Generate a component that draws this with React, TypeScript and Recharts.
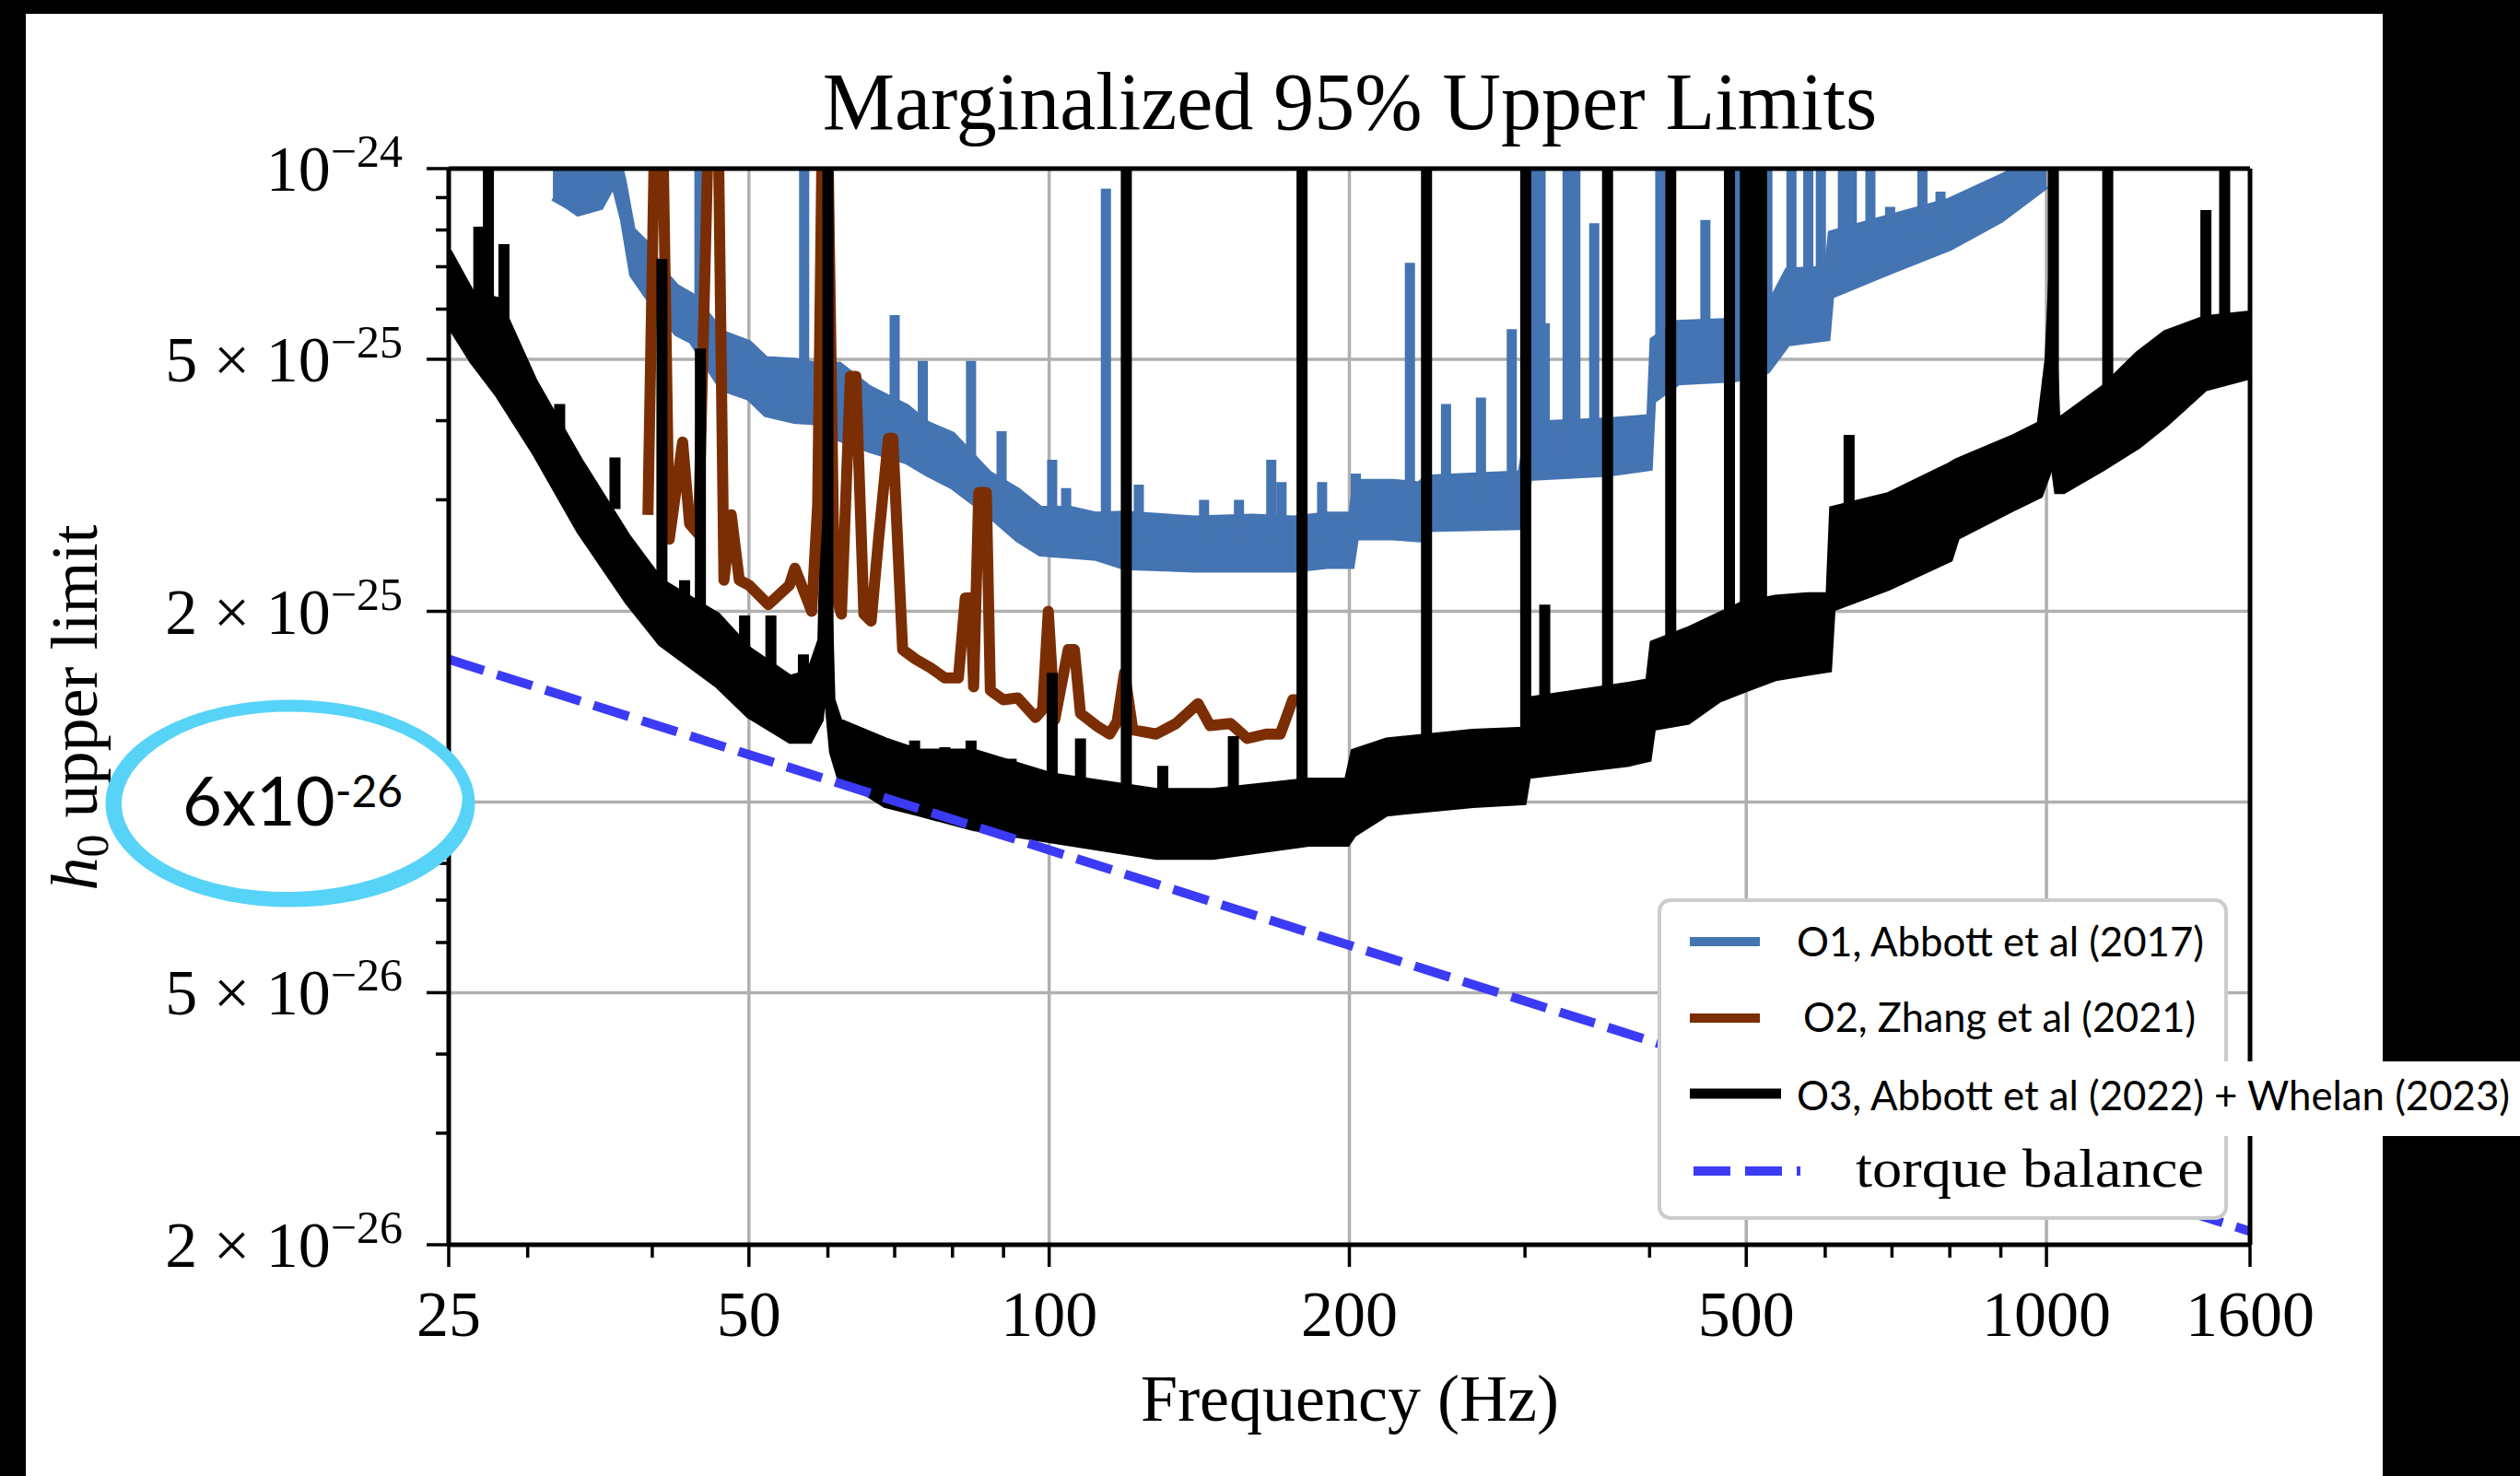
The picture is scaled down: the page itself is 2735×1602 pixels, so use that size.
import React from "react";
import { ComposedChart, Line, Area, XAxis, YAxis, CartesianGrid, ReferenceLine } from "recharts";

const SERIF = "'Liberation Serif', 'DejaVu Serif', serif";
const SANS = "Lato, 'Open Sans', sans-serif";

const O1_COLOR = "#4474b1";
const O2_COLOR = "#7b2e04";
const O3_COLOR = "#000000";
const TORQUE_COLOR = "#3b3bf6";
const RING_COLOR = "#58d3f8";

// axis ticks
const xMajorTicks = [25, 50, 100, 200, 500, 1000, 1600];
const xMinorTicks = [30, 40, 60, 70, 80, 90, 300, 400, 600, 700, 800, 900];
const xGridValues = [50, 100, 200, 500, 1000];

// the 1e-25 label is hidden under the pasted annotation, so it has no text
const yMajorTicks = [2e-26, 5e-26, 1e-25, 2e-25, 5e-25, 1e-24];
const yMajorMantissa = ["2", "5", "", "2", "5", ""];
const yMajorExponent = ["−26", "−26", "", "−25", "−25", "−24"];
const yMinorTicks = [3e-26, 4e-26, 6e-26, 7e-26, 8e-26, 9e-26, 3e-25, 4e-25, 6e-25, 7e-25, 8e-25, 9e-25];
const yGridValues = [5e-26, 1e-25, 2e-25, 5e-25];

// O1 band: [freq Hz, lower, upper]
const o1Band: [number, number, number][] = [
  [31.8, 9.0e-25, 1.1e-24], [33.0, 8.7e-25, 1.1e-24], [33.7, 8.5e-25, 1.05e-24], [35.5, 8.7e-25, 1.05e-24],
  [36.6, 9.5e-25, 1.1e-24], [37.4, 8.3e-25, 9.6e-25], [38.2, 6.8e-25, 8.0e-25], [39.5, 6.3e-25, 7.6e-25],
  [40.9, 5.9e-25, 6.9e-25], [42.3, 5.5e-25, 6.5e-25], [43.8, 5.35e-25, 6.3e-25], [47.0, 4.5e-25, 5.5e-25],
  [50.0, 4.35e-25, 5.3e-25], [52.0, 4.1e-25, 5.0e-25], [55.5, 4.0e-25, 4.97e-25], [58.2, 3.98e-25, 4.9e-25],
  [61.6, 3.75e-25, 4.9e-25], [66.0, 3.6e-25, 4.5e-25], [72.0, 3.45e-25, 4.2e-25], [75.5, 3.3e-25, 3.95e-25],
  [80.0, 3.15e-25, 3.8e-25], [87.0, 2.85e-25, 3.3e-25], [93.0, 2.6e-25, 3.1e-25], [98.0, 2.47e-25, 2.9e-25],
  [105, 2.45e-25, 2.9e-25], [111.5, 2.43e-25, 2.84e-25], [119, 2.35e-25, 2.85e-25], [140, 2.33e-25, 2.8e-25],
  [160, 2.33e-25, 2.82e-25], [176, 2.33e-25, 2.8e-25], [190, 2.36e-25, 2.84e-25], [201, 2.36e-25, 2.84e-25],
  [203, 2.62e-25, 3.2e-25], [221, 2.62e-25, 3.2e-25], [235, 2.6e-25, 3.17e-25], [239, 2.7e-25, 3.25e-25],
  [297, 2.72e-25, 3.3e-25], [303, 3.25e-25, 3.95e-25], [363, 3.3e-25, 4.0e-25], [400, 3.37e-25, 4.05e-25],
  [403, 4.3e-25, 5.36e-25], [427, 4.6e-25, 5.7e-25], [487, 4.65e-25, 5.75e-25], [525, 4.8e-25, 6.0e-25],
  [550, 5.3e-25, 6.9e-25], [603, 5.4e-25, 6.95e-25], [608, 6.3e-25, 7.9e-25], [700, 6.9e-25, 8.4e-25],
  [800, 7.5e-25, 8.9e-25], [900, 8.3e-25, 9.7e-25], [1000, 9.4e-25, 1.05e-24],
];

// narrow lines: [freq Hz, base, peak]
const o1Spikes: [number, number, number][] = [
  [44.6, 5.5e-25, 1.1e-24], [56.8, 4.5e-25, 1.1e-24], [70, 4e-25, 5.87e-25], [74.7, 3.6e-25, 4.97e-25],
  [83.5, 3.3e-25, 4.97e-25], [89.6, 3e-25, 3.85e-25], [100.7, 2.7e-25, 3.47e-25], [104, 2.7e-25, 3.13e-25],
  [114, 2.6e-25, 9.3e-25], [123, 2.6e-25, 3.17e-25], [143, 2.6e-25, 3.0e-25], [155, 2.6e-25, 3.0e-25],
  [167, 2.6e-25, 3.47e-25], [171, 2.6e-25, 3.2e-25], [187.8, 2.6e-25, 3.2e-25], [203, 2.9e-25, 3.3e-25],
  [218, 2.9e-25, 3.2e-25], [230, 2.9e-25, 7.1e-25], [250, 3.0e-25, 4.25e-25], [271, 3.0e-25, 4.35e-25],
  [291, 3.0e-25, 5.58e-25], [305, 3.6e-25, 1.1e-24], [311, 3.6e-25, 1.1e-24], [314, 3.6e-25, 5.7e-25],
  [331, 3.6e-25, 1.1e-24], [337, 3.6e-25, 1.1e-24], [352, 3.6e-25, 8.2e-25], [410, 4.8e-25, 1.1e-24],
  [455, 5e-25, 8.3e-25], [490, 5.2e-25, 1.1e-24], [496, 5.2e-25, 1.1e-24], [525, 5.5e-25, 1.1e-24],
  [555, 6e-25, 1.1e-24], [577, 6e-25, 1.1e-24], [594, 6e-25, 1.1e-24], [625, 7e-25, 1.1e-24],
  [638, 7e-25, 1.1e-24], [666, 7e-25, 1.1e-24], [697, 7.5e-25, 8.7e-25], [751, 7.8e-25, 1.1e-24],
  [783, 8e-25, 9.2e-25],
];

// O2: [freq Hz, h0]
const o2Curve: [number, number][] = [
  [39.6, 2.84e-25], [40.2, 1.1e-24], [41.0, 1.1e-24], [41.6, 2.6e-25], [42.9, 3.7e-25], [43.6, 2.75e-25],
  [44.5, 2.65e-25], [45.5, 1.1e-24], [46.6, 1.1e-24], [47.2, 2.24e-25], [48.0, 2.84e-25], [48.9, 2.24e-25],
  [50.0, 2.2e-25], [52.3, 2.05e-25], [54.9, 2.2e-25], [55.6, 2.34e-25], [57.8, 2.0e-25], [58.6, 2.95e-25],
  [59.2, 1.1e-24], [60.0, 1.1e-24], [60.9, 2.16e-25], [61.9, 1.98e-25], [63.2, 4.7e-25], [64.0, 4.7e-25],
  [65.2, 1.98e-25], [66.3, 1.93e-25], [67.4, 2.57e-25], [69.0, 3.75e-25], [69.7, 3.75e-25], [71.3, 1.74e-25],
  [73.5, 1.68e-25], [76, 1.63e-25], [78.6, 1.57e-25], [81.1, 1.57e-25], [82.4, 2.1e-25], [83.4, 2.1e-25],
  [84.0, 1.52e-25], [85.0, 3.08e-25], [86.5, 3.08e-25], [87.3, 1.5e-25], [90, 1.45e-25], [93, 1.46e-25],
  [96.9, 1.36e-25], [98.5, 1.4e-25], [99.8, 2.0e-25], [101.3, 1.35e-25], [104.5, 1.74e-25], [106, 1.74e-25],
  [107.5, 1.38e-25], [111.5, 1.32e-25], [115, 1.28e-25], [117, 1.34e-25], [119, 1.6e-25], [121.3, 1.3e-25],
  [128, 1.28e-25], [134, 1.33e-25], [141, 1.43e-25], [145, 1.32e-25], [152, 1.33e-25], [158, 1.26e-25],
  [165, 1.28e-25], [170.5, 1.28e-25], [175.5, 1.45e-25], [177.8, 1.45e-25],
];

// O3 band: [freq Hz, lower, upper]
const o3Band: [number, number, number][] = [
  [25, 5.7e-25, 7.4e-25], [26.4, 4.97e-25, 6.33e-25], [28, 4.4e-25, 6.2e-25], [30.5, 3.56e-25, 4.6e-25],
  [33.8, 2.68e-25, 3.47e-25], [37.8, 2.07e-25, 2.62e-25], [40.8, 1.78e-25, 2.23e-25], [46.5, 1.53e-25, 1.97e-25],
  [50, 1.37e-25, 1.74e-25], [55, 1.25e-25, 1.57e-25], [57.5, 1.25e-25, 1.6e-25], [59.0, 1.35e-25, 1.8e-25],
  [59.6, 1.6e-25, 3.75e-25], [60.6, 1.2e-25, 1.45e-25], [61.6, 1.1e-25, 1.34e-25], [68.5, 0.99e-25, 1.25e-25],
  [74, 0.96e-25, 1.2e-25], [84, 0.91e-25, 1.2e-25], [100.7, 0.87e-25, 1.1e-25], [128, 0.82e-25, 1.04e-25],
  [146, 0.82e-25, 1.04e-25], [182, 0.86e-25, 1.08e-25], [199, 0.86e-25, 1.08e-25], [202, 0.89e-25, 1.2e-25],
  [218, 0.96e-25, 1.25e-25], [266, 0.99e-25, 1.29e-25], [299, 1.0e-25, 1.3e-25], [302, 1.1e-25, 1.45e-25],
  [381, 1.15e-25, 1.53e-25], [399, 1.17e-25, 1.55e-25], [403, 1.31e-25, 1.78e-25], [437, 1.34e-25, 1.87e-25],
  [469, 1.45e-25, 1.97e-25], [495, 1.5e-25, 2.05e-25], [535, 1.57e-25, 2.1e-25], [576, 1.6e-25, 2.12e-25],
  [605, 1.62e-25, 2.12e-25], [610, 2.02e-25, 2.9e-25], [694, 2.18e-25, 3.05e-25], [800, 2.42e-25, 3.4e-25],
  [813, 2.62e-25, 3.45e-25], [922, 2.9e-25, 3.75e-25], [985, 3.05e-25, 3.95e-25], [1003, 3.3e-25, 5.0e-25],
  [1012, 3.6e-25, 6.8e-25], [1025, 3.1e-25, 4.0e-25], [1040, 3.1e-25, 4.05e-25], [1140, 3.37e-25, 4.5e-25],
  [1236, 3.65e-25, 5.1e-25], [1316, 3.95e-25, 5.5e-25], [1442, 4.5e-25, 5.8e-25], [1600, 4.7e-25, 5.9e-25],
];

const o3Spikes: [number, number, number][] = [
  [26.8, 6e-25, 8.1e-25], [27.4, 6e-25, 1.1e-24], [28.4, 5.5e-25, 7.6e-25], [32.3, 3.8e-25, 4.25e-25],
  [34.8, 2.9e-25, 3.2e-25], [35.8, 2.7e-25, 2.96e-25], [36.7, 2.9e-25, 3.5e-25], [40.9, 2.0e-25, 7.2e-25],
  [43.1, 1.9e-25, 2.24e-25], [44.7, 1.8e-25, 5.2e-25], [49.5, 1.6e-25, 1.97e-25], [52.6, 1.5e-25, 1.97e-25],
  [56.7, 1.4e-25, 1.71e-25], [60, 1.5e-25, 1.1e-24], [73.3, 1.1e-25, 1.25e-25], [78.6, 1.05e-25, 1.22e-25],
  [83.5, 1.05e-25, 1.25e-25], [91.6, 1.0e-25, 1.17e-25], [100.7, 1e-25, 1.6e-25], [107.5, 1e-25, 1.26e-25],
  [119.5, 1e-25, 1.1e-24], [130, 0.95e-25, 1.14e-25], [153, 0.95e-25, 1.27e-25], [179.3, 1e-25, 1.1e-24],
  [239, 1.1e-25, 1.1e-24], [300.5, 1.2e-25, 1.1e-24], [314, 1.3e-25, 2.05e-25], [363, 1.3e-25, 1.1e-24],
  [420, 1.5e-25, 1.1e-24], [481, 1.7e-25, 1.1e-24], [499, 1.7e-25, 1.1e-24], [502, 1.7e-25, 1.1e-24],
  [505, 1.7e-25, 1.1e-24], [512, 1.7e-25, 1.1e-24], [515, 1.7e-25, 1.1e-24], [518, 1.7e-25, 1.1e-24],
  [634, 2.6e-25, 3.8e-25], [1016, 3.5e-25, 1.1e-24], [1152, 4e-25, 1.1e-24], [1445, 5e-25, 8.6e-25],
  [1509, 5e-25, 1.1e-24],
];

const torqueBalance: [number, number][] = [[25, 1.68e-25], [1600, 2.1e-26]];

const toBand = (rows: [number, number, number][]) => rows.map(([f, lo, hi]) => ({ f, r: [lo, hi] }));
const toCurve = (rows: [number, number][]) => rows.map(([f, v]) => ({ f, v }));
const toSpikes = (rows: [number, number, number][]) =>
  rows.flatMap(([f, base, peak]) => [{ f, v: base }, { f, v: peak }, { f, v: null }]);

const xTicks = [...xMajorTicks, ...xMinorTicks].sort((a, b) => a - b);
const yTicks = [...yMajorTicks, ...yMinorTicks].sort((a, b) => a - b);

function XTick(props: any) {
  const { x, y, payload } = props;
  const major = xMajorTicks.indexOf(payload.value) >= 0;
  return (
    <g>
      <line x1={x} x2={x} y1={y} y2={y + (major ? 24 : 14)} stroke="#000" strokeWidth={3.5} />
      {major && (
        <text x={x} y={y + 99} textAnchor="middle" fontFamily={SERIF} fontSize={70} fill="#000">
          {payload.value}
        </text>
      )}
    </g>
  );
}

function YTick(props: any) {
  const { x, y, payload } = props;
  const i = yMajorTicks.indexOf(payload.value);
  const major = i >= 0;
  return (
    <g>
      <line x1={x - (major ? 24 : 14)} x2={x} y1={y} y2={y} stroke="#000" strokeWidth={3.5} />
      {major && yMajorExponent[i] && (
        <text x={x - 50} y={y + 24} textAnchor="end" fontFamily={SERIF} fontSize={70} fill="#000">
          {yMajorMantissa[i] ? `${yMajorMantissa[i]} × 10` : "10"}
          <tspan dy={-26} fontSize={50}>{yMajorExponent[i]}</tspan>
        </text>
      )}
    </g>
  );
}

export default function App() {
  return (
    <div style={{ position: "absolute", left: 0, top: 0, width: 2735, height: 1602, background: "#fff", overflow: "hidden" }}>
      <div style={{ position: "absolute", left: 0, top: 0 }}>
        <ComposedChart width={2735} height={1602} margin={{ top: 183, right: 293, bottom: 21, left: 27 }}>
          <CartesianGrid horizontalValues={yGridValues} verticalValues={xGridValues} stroke="#b0b0b0" strokeWidth={3.5} />
          <XAxis
            dataKey="f" type="number" scale="log" domain={[25, 1600]} allowDataOverflow
            ticks={xTicks} interval={0} tick={(p: any) => <XTick {...p} />} tickLine={false}
            tickSize={0} tickMargin={0} height={230} axisLine={{ stroke: "#000", strokeWidth: 5 }}
          />
          <YAxis
            type="number" scale="log" domain={[2e-26, 1e-24]} allowDataOverflow
            ticks={yTicks} interval={0} tick={(p: any) => <YTick {...p} />} tickLine={false}
            tickSize={0} tickMargin={0} width={460} axisLine={{ stroke: "#000", strokeWidth: 5 }}
          />
          <Area data={toBand(o1Band)} dataKey="r" type="linear" stroke={O1_COLOR} strokeWidth={7}
            fill={O1_COLOR} fillOpacity={1} dot={false} activeDot={false} isAnimationActive={false} />
          <Line data={toSpikes(o1Spikes)} dataKey="v" type="linear" stroke={O1_COLOR} strokeWidth={11}
            dot={false} activeDot={false} isAnimationActive={false} />
          <Line data={toCurve(o2Curve)} dataKey="v" type="linear" stroke={O2_COLOR} strokeWidth={12}
            strokeLinejoin="round" dot={false} activeDot={false} isAnimationActive={false} />
          <Line data={toCurve(torqueBalance)} dataKey="v" type="linear" stroke={TORQUE_COLOR} strokeWidth={10}
            strokeDasharray="40 15" dot={false} activeDot={false} isAnimationActive={false} />
          <Area data={toBand(o3Band)} dataKey="r" type="linear" stroke={O3_COLOR} strokeWidth={7}
            fill={O3_COLOR} fillOpacity={1} dot={false} activeDot={false} isAnimationActive={false} />
          <Line data={toSpikes(o3Spikes)} dataKey="v" type="linear" stroke={O3_COLOR} strokeWidth={12}
            dot={false} activeDot={false} isAnimationActive={false} />
          <ReferenceLine y={1e-24} stroke="#000" strokeWidth={5} />
          <ReferenceLine x={1600} stroke="#000" strokeWidth={5} />
        </ComposedChart>
      </div>
      <svg width={2735} height={1602} style={{ position: "absolute", left: 0, top: 0, pointerEvents: "none" }}>
        <text x={1465} y={140} textAnchor="middle" fontFamily={SERIF} fontSize={88} fill="#000">
          Marginalized 95% Upper Limits
        </text>
        <text x={1465} y={1542} textAnchor="middle" fontFamily={SERIF} fontSize={72} fill="#000">
          Frequency (Hz)
        </text>
        <text x={105} y={768} transform="rotate(-90 105 768)" textAnchor="middle" fontFamily={SERIF} fontSize={72} fill="#000">
          <tspan fontStyle="italic">h</tspan>
          <tspan fontSize={50} dy={12}>0</tspan>
          <tspan dy={-12}> upper limit</tspan>
        </text>

        {/* hand-drawn annotation */}
        <ellipse cx={315} cy={872} rx={194} ry={106} fill="#fff" stroke={RING_COLOR} strokeWidth={13} />
        <ellipse cx={317} cy={869} rx={188} ry={102} fill="none" stroke={RING_COLOR} strokeWidth={6} transform="rotate(-1.5 315 872)" />
        <text x={198} y={896} fontFamily={SANS} fontSize={74} fill="#000">
          6x10<tspan fontSize={48} dy={-20}>-26</tspan>
        </text>

        {/* black frame */}
        <rect x={0} y={0} width={2735} height={15} fill="#000" />
        <rect x={0} y={0} width={28} height={1602} fill="#000" />
        <rect x={2586} y={0} width={149} height={1602} fill="#000" />

        {/* legend */}
        <rect x={1801} y={977} width={615} height={345} rx={12} fill="#fff" stroke="#cccccc" strokeWidth={4} />
        <rect x={1808} y={1152} width={927} height={81} fill="#fff" />
        <line x1={1834} x2={1910} y1={1022} y2={1022} stroke={O1_COLOR} strokeWidth={10} />
        <text x={1950} y={1038} fontFamily={SANS} fontSize={44} textLength={442} lengthAdjust="spacingAndGlyphs" fill="#000">
          O1, Abbott et al (2017)
        </text>
        <line x1={1834} x2={1910} y1={1105} y2={1105} stroke={O2_COLOR} strokeWidth={10} />
        <text x={1957} y={1120} fontFamily={SANS} fontSize={44} textLength={426} lengthAdjust="spacingAndGlyphs" fill="#000">
          O2, Zhang et al (2021)
        </text>
        <line x1={1834} x2={1933} y1={1187} y2={1187} stroke={O3_COLOR} strokeWidth={11} />
        <text x={1950} y={1205} fontFamily={SANS} fontSize={44} textLength={774} lengthAdjust="spacingAndGlyphs" fill="#000">
          O3, Abbott et al (2022) + Whelan (2023)
        </text>
        <line x1={1838} x2={1954} y1={1271} y2={1271} stroke={TORQUE_COLOR} strokeWidth={10} strokeDasharray="40 16" />
        <text x={2014} y={1288} fontFamily={SERIF} fontSize={60} textLength={378} lengthAdjust="spacingAndGlyphs" fill="#000">
          torque balance
        </text>
      </svg>
    </div>
  );
}
